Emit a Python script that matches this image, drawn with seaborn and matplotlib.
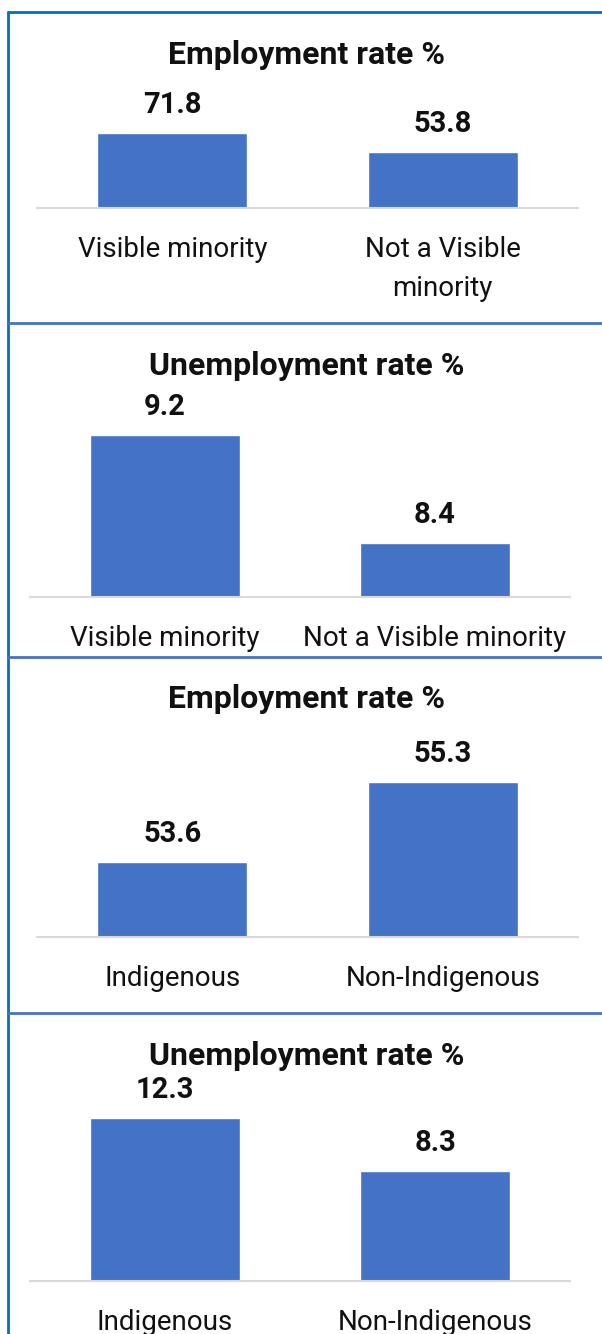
import matplotlib
matplotlib.use("Agg")
import matplotlib.pyplot as plt
import seaborn as sns
import pandas as pd
from matplotlib.lines import Line2D

# ---- data ----
emp_vm_cats = ["Visible minority", "Not a Visible\nminority"]
emp_vm_vals = [71.8, 53.8]
unemp_vm_cats = ["Visible minority", "Not a Visible minority"]
unemp_vm_vals = [9.2, 8.4]
emp_ind_cats = ["Indigenous", "Non-Indigenous"]
emp_ind_vals = [53.6, 55.3]
unemp_ind_cats = ["Indigenous", "Non-Indigenous"]
unemp_ind_vals = [12.3, 8.3]
titles = ["Employment rate %", "Unemployment rate %", "Employment rate %", "Unemployment rate %"]
ylims = [(0, 80), (8.0, 9.4), (52, 56), (0, 14)]

sns.set_theme(style="white")
plt.rcParams['font.family'] = ['Roboto', 'DejaVu Sans']

W, H = 602, 1334
fig = plt.figure(figsize=(W / 100, H / 100), dpi=100)

BAR = "#4472C4"

def px_axes(left, right, top, bottom):
    return fig.add_axes([left / W, 1 - bottom / H, (right - left) / W, (bottom - top) / H])

# panel geometry (pixels): left, right, top, bottom, title y
panels = [
    (emp_vm_cats, emp_vm_vals, 37, 578, 124.8, 208, 55),
    (unemp_vm_cats, unemp_vm_vals, 30, 570, 408, 597, 366),
    (emp_ind_cats, emp_ind_vals, 37, 578, 748.8, 937, 699),
    (unemp_ind_cats, unemp_ind_vals, 30, 570, 1095.5, 1281, 1056),
]

for i, (cats, vals, l, r, t, b, ty) in enumerate(panels):
    ax = px_axes(l, r, t, b)
    df = pd.DataFrame({"cat": cats, "val": vals})
    sns.barplot(data=df, x="cat", y="val", ax=ax, color=BAR, width=0.553,
                saturation=1, errorbar=None)
    ax.set_xlim(-0.5, 1.5)
    ax.set_ylim(*ylims[i])
    ax.set_xlabel("")
    ax.set_ylabel("")
    ax.set_yticks([])
    for s in ["top", "left", "right"]:
        ax.spines[s].set_visible(False)
    ax.spines["bottom"].set_color("#d9d9d9")
    ax.spines["bottom"].set_linewidth(1.5)
    ax.tick_params(axis="x", length=0, pad=20, labelsize=20, colors="#111111")
    for lab in ax.get_xticklabels():
        lab.set_linespacing(1.6)
    for c in ax.containers:
        labels = ax.bar_label(c, fmt="%.1f", padding=10, fontsize=21,
                              fontweight="bold", color="#111111")
        for lb in labels:
            lb.set_clip_on(False)
    fig.text(307 / W, 1 - ty / H, titles[i], ha="center", va="center",
             fontsize=23, fontweight="bold", color="#111111")

# borders
def hline(y, color, x0=8, x1=602, lw=2.0):
    fig.add_artist(Line2D([x0 / W, x1 / W], [1 - y / H, 1 - y / H],
                          color=color, lw=lw, transform=fig.transFigure))

hline(12, "#0070C0")
fig.add_artist(Line2D([8 / W, 8 / W], [1 - 12 / H, 0], color="#0070C0",
                      lw=2.0, transform=fig.transFigure))
for y in [323, 657, 1013]:
    hline(y, "#4472C4")

fig.savefig("out.png", dpi=100, facecolor="white")
